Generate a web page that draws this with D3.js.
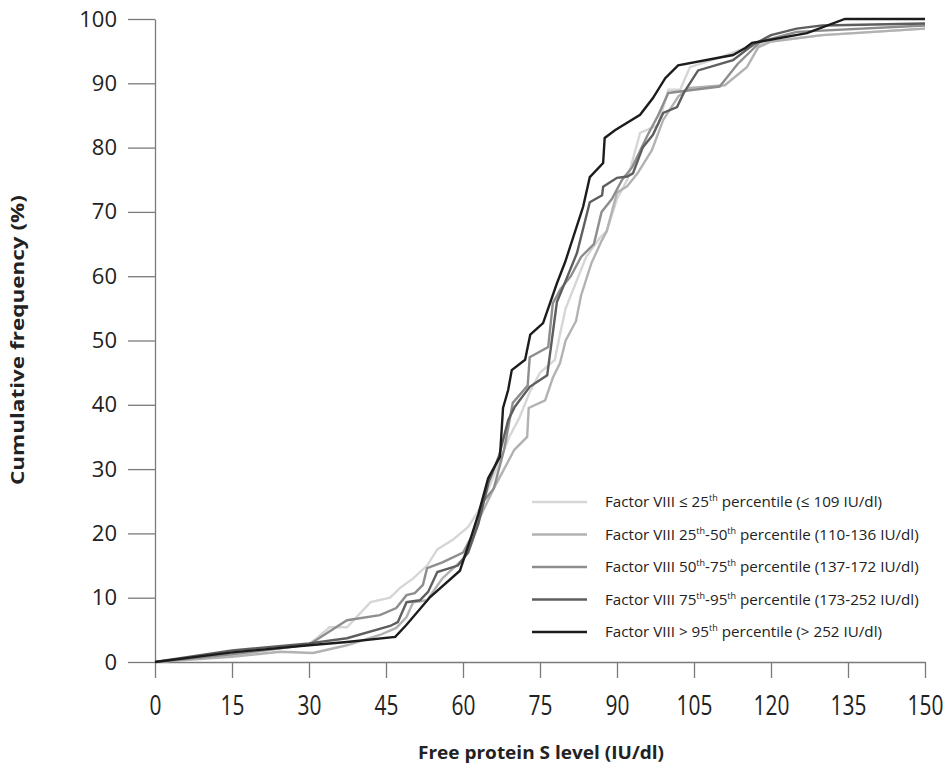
<!DOCTYPE html>
<html>
<head>
<meta charset="utf-8">
<script src="https://cdn.jsdelivr.net/npm/d3@7"></script>
<style>
  body { margin: 0; background: #fff; }
  .axis text { font-family: "Open Sans", sans-serif; font-size: 22px; fill: #222; }
  .axis line, .axis path { stroke: #7a7a7a; stroke-width: 1.3px; }
  .label { font-family: "Open Sans", sans-serif; font-weight: bold; font-size: 18px; fill: #222; }
  .legend text { font-family: "Open Sans", sans-serif; font-size: 15.2px; fill: #222; }
</style>
</head>
<body>
<div id="chart"></div>
<script>
// set the stage
var margin = {t:19, r:26, b:122, l:155},
	w = 951 - margin.l - margin.r,
	h = 784 - margin.t - margin.b;

var xTicks = [0, 15, 30, 45, 60, 75, 90, 105, 120, 135, 150];
var yTicks = [0, 10, 20, 30, 40, 50, 60, 70, 80, 90, 100];

// one array of x (free protein S) and y (cumulative %) per group
var q1X = [0,15,30,31.5,34,37.4,42,45.8,47.7,50.3,53,55,58,61,63,65,67,69,71,73,75,77.9,78.9,80,82,84,86.7,88,90,92,94.5,98,100,102.3,104.2,110,115,120,130,150];
var q1Y = [0,1,2.8,3.7,5.4,5.4,9.3,10,11.5,13,15,17.5,19,21,23.5,27,31,35,38,42,45,47,51,55,59,63,66,67,72,75,82.3,83.5,89,89,92.5,94,95.5,96.5,97.5,98.5];

var q2X = [0,15,24.4,30.8,37.4,43.8,47,49,50.3,53,56,60,63,66,68,70,72.5,72.8,76,77.5,78.9,80,82,83,85,87,88,90,92,94,96.8,99,102,104.2,111,115.3,117.5,120,130,150];
var q2Y = [0,0.8,1.6,1.4,2.6,4.2,5.3,7,9.3,9.6,13,16,22,27,30,33,35,39.5,40.7,44.2,46.5,50,53,57,62,65.5,67,73,74,76,79.6,84.3,88,89.3,89.7,92.5,95.6,96.5,97.5,98.5];

var q3X = [0,15,30,37.4,43.8,47,49,50.6,52.2,53,56,60,62,64,66,68,69.7,71,72.6,73,76.6,77.5,79,81,83,85.5,87,89,91,93,96,98,100,105,110,113.5,118,125,150];
var q3Y = [0,1.2,2.7,6.5,7.3,8.4,10.4,10.7,12,14.6,15.5,17,20,25,27,33,40.3,41.5,43,47.4,49,55.8,58,60,63,65,70,72,75,77,82,85,88.5,89,89.5,93,96.5,98,99];

var q4X = [0,15,30,37.4,45.8,47.3,49,51.6,53.2,55,59,61,63,65,67,68.8,70.1,73,76.4,78.3,79.5,82.2,84.7,87.1,87.3,90,92,93.1,95,97,99,101.7,103,105.8,112.6,116.5,120,125,130,150];
var q4Y = [0,1.8,2.9,3.7,5.6,6.2,9.3,9.6,10.9,14,15,17,21.5,28,32,37.6,39.7,42.8,44.6,56,58.3,63.6,71.5,72.6,73.9,75.3,75.5,76,80,82,85.4,86.3,88.5,92,93.6,96,97.5,98.5,99,99.3];

var q5X = [0,15,30,37.4,46.8,49,53.6,59.4,61.4,63,64.9,67.2,67.8,68.8,69.5,72.1,73.1,75.6,78.3,79.9,83.4,84.7,87.3,87.6,89.6,94.5,97,99.4,101.9,112.6,115,116.3,118,127,134.4,150];
var q5Y = [0,1.5,2.6,3.1,3.9,5.8,10.1,14.2,19,23,28.6,31.9,39.5,42.3,45.4,47,50.9,52.7,58.9,62.2,70.8,75.4,77.6,81.5,82.7,85.1,87.7,90.8,92.8,94.4,95.5,96.3,96.5,97.8,100,100];

var names = ["≤ 25|th| percentile (≤ 109 IU/dl)",
	"25|th|-50|th| percentile (110-136 IU/dl)",
	"50|th|-75|th| percentile (137-172 IU/dl)",
	"75|th|-95|th| percentile (173-252 IU/dl)",
	"> 95|th| percentile (> 252 IU/dl)"];
var colors = ["#d6d6d6", "#b2b2b2", "#8e8e8e", "#5e5e5e", "#1c1c1c"];

var series = [[q1X, q1Y], [q2X, q2Y], [q3X, q3Y], [q4X, q4Y], [q5X, q5Y]].map(function(s, i) {
	return { name: names[i], color: colors[i],
		values: s[0].map(function(x, j) { return {x: x, y: s[1][j]}; }) };
});

var x = d3.scaleLinear().domain([0, 150]).range([0, w]),
	y = d3.scaleLinear().domain([0, 100]).range([h, 0]);

var svg = d3.select("#chart").append("svg")
	.attr("width", 951)
	.attr("height", 784);

var g = svg.append("g").attr("transform", "translate(" + margin.l + "," + margin.t + ")");

// axes
var xAxisG = g.append("g")
	.attr("class", "x axis")
	.attr("transform", "translate(0," + h + ")")
	.call(d3.axisBottom(x).tickValues(xTicks).tickSize(16).tickSizeOuter(0).tickPadding(10));

// the x tick labels in the original look tall and narrow
xAxisG.selectAll(".tick text")
	.attr("y", 0)
	.attr("dy", 0)
	.attr("transform", "translate(0,53) scale(0.95,1.22)");

g.append("g")
	.attr("class", "y axis")
	.call(d3.axisLeft(y).tickValues(yTicks).tickSize(27).tickSizeOuter(0).tickPadding(11));

// lines
var line = d3.line().x(function(d) { return x(d.x); }).y(function(d) { return y(d.y); });

g.selectAll(".series")
	.data(series)
  .enter().append("path")
	.attr("class", "series")
	.attr("d", function(d) { return line(d.values); })
	.attr("fill", "none")
	.attr("stroke", function(d) { return d.color; })
	.attr("stroke-width", 2.4)
	.attr("stroke-linejoin", "miter");

// legend
var legend = svg.append("g").attr("class", "legend");
var rows = legend.selectAll("g")
	.data(series)
  .enter().append("g")
	.attr("transform", function(d, i) { return "translate(532," + (502 + i * 32.5) + ")"; });

rows.append("line")
	.attr("x1", 0).attr("x2", 55)
	.attr("stroke", function(d) { return d.color; })
	.attr("stroke-width", 2.4);

rows.append("text")
	.attr("x", 73)
	.attr("dy", "0.35em")
	.each(function(d) {
		var t = d3.select(this);
		t.append("tspan").text("Factor VIII ");
		d.name.split("|").forEach(function(part, k) {
			if (k % 2 === 1) {
				t.append("tspan").attr("font-size", "9px").attr("dy", "-6").text(part);
			} else if (k > 0) {
				t.append("tspan").attr("dy", "6").text(part);
			} else {
				t.append("tspan").text(part);
			}
		});
	});

// axis labels
svg.append("text")
	.attr("class", "label")
	.attr("text-anchor", "middle")
	.attr("x", 541)
	.attr("y", 759)
	.attr("textLength", 246)
	.attr("lengthAdjust", "spacingAndGlyphs")
	.text("Free protein S level (IU/dl)");

svg.append("text")
	.attr("class", "label")
	.attr("text-anchor", "middle")
	.attr("textLength", 290)
	.attr("lengthAdjust", "spacingAndGlyphs")
	.attr("transform", "translate(24," + 340 + ") rotate(-90)")
	.text("Cumulative frequency (%)");
</script>
</body>
</html>
